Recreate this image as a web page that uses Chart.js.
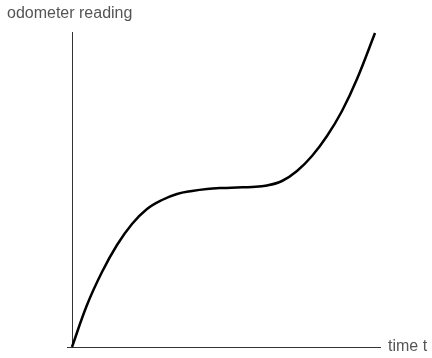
<!DOCTYPE html>
<html>
<head>
<meta charset="utf-8">
<script src="https://cdn.jsdelivr.net/npm/chart.js@4"></script>
<style>
  html, body { margin: 0; padding: 0; background: #fff; }
  #wrap { width: 432px; height: 358px; position: relative; }
</style>
</head>
<body>
<div id="wrap"><canvas id="odo"></canvas></div>
<script>
// time (from origin) and odometer reading
const timeValues = [0, 15, 30, 45, 60, 75, 90, 105, 120, 135, 150, 165, 180, 195, 210, 225, 240, 255, 270, 285, 303];
const odometerValues = [0, 42, 75, 102, 123, 138, 147, 153, 156, 158, 159, 159.5, 160, 161.5, 166, 176, 191, 211, 236, 268, 314];
const yAxisLabel = 'odometer reading';
const xAxisLabel = 'time t';

const points = timeValues.map((t, i) => ({ x: t, y: odometerValues[i] }));

const labelPlugin = {
  id: 'axisLabels',
  afterDraw(chart) {
    const ctx = chart.ctx;
    const area = chart.chartArea;
    ctx.save();
    ctx.fillStyle = '#555';
    ctx.font = '16px "Liberation Sans", Arial, sans-serif';
    ctx.textBaseline = 'middle';
    ctx.textAlign = 'left';
    ctx.fillText(yAxisLabel, 7, 14);
    ctx.fillText(xAxisLabel, area.right + 8, area.bottom);
    ctx.restore();
  }
};

new Chart(document.getElementById('odo').getContext('2d'), {
  type: 'scatter',
  data: {
    datasets: [{
      data: points,
      showLine: true,
      tension: 0.4,
      borderColor: '#000',
      borderWidth: 2.5,
      pointRadius: 0,
      clip: false
    }]
  },
  options: {
    responsive: true,
    maintainAspectRatio: false,
    animation: false,
    layout: { padding: { left: 67, right: 52, top: 32, bottom: 11 } },
    plugins: { legend: { display: false }, tooltip: { enabled: false } },
    scales: {
      x: {
        type: 'linear',
        min: -5,
        max: 308,
        afterBuildTicks: (scale) => { scale.ticks = [{ value: 0 }]; },
        ticks: { display: false },
        grid: { color: '#333', lineWidth: 1, drawTicks: false },
        border: { display: true, color: '#333', width: 1 }
      },
      y: {
        type: 'linear',
        min: 0,
        max: 315,
        ticks: { display: false },
        grid: { display: false, drawTicks: false },
        border: { display: false }
      }
    }
  },
  plugins: [labelPlugin]
});
</script>
</body>
</html>
